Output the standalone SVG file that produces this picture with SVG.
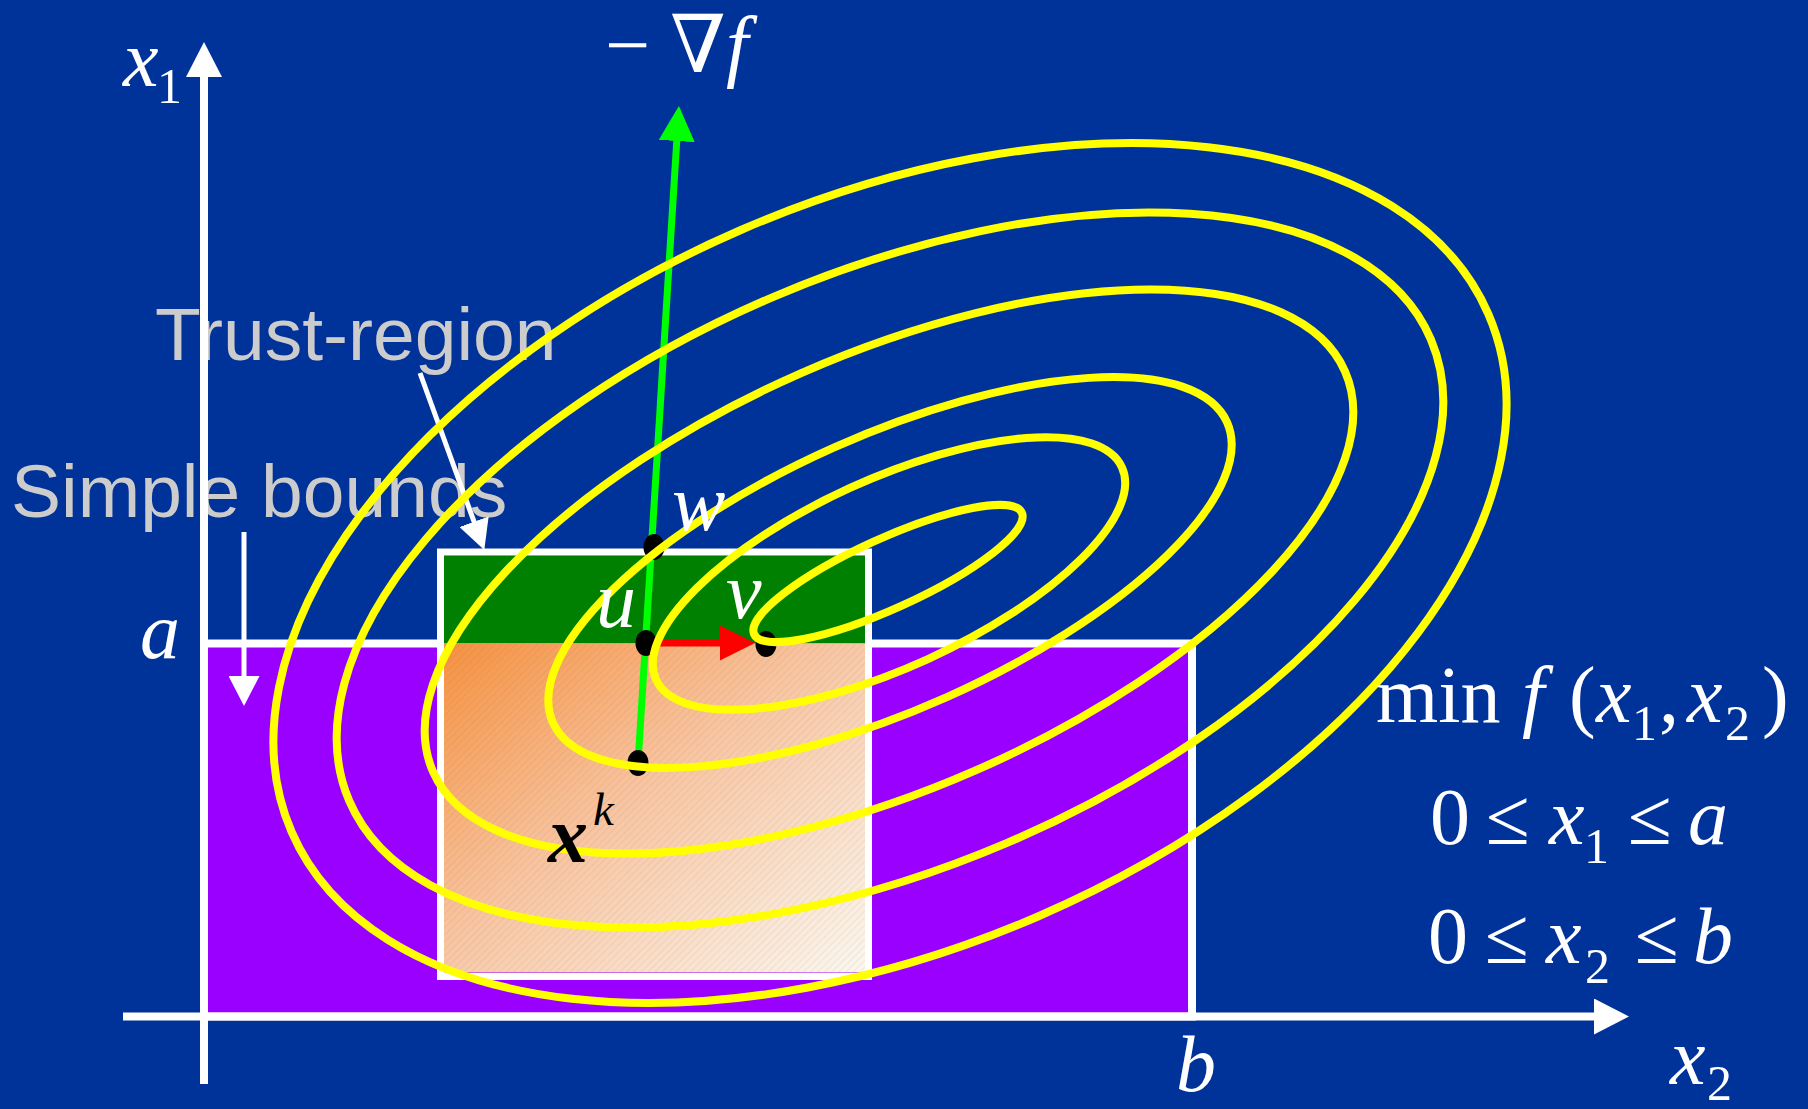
<svg xmlns="http://www.w3.org/2000/svg" width="1808" height="1109" viewBox="0 0 1808 1109">
<style>
.gray{font-family:"Liberation Sans",Arial,sans-serif;font-size:75px;fill:#CCCCCC}
.m{font-family:"Liberation Serif","DejaVu Serif",serif;font-size:80px;fill:#FFFFFF}
.i{font-style:italic}
.sub{font-size:50px}
.dark{fill:#000000}
.contour{fill:none;stroke:#FFFF00;stroke-width:8}
.dot{fill:#000000}
</style>
<defs>
<marker id="whiteBig" markerUnits="userSpaceOnUse" viewBox="0 0 35 36" markerWidth="35" markerHeight="36" refX="1" refY="18" orient="auto"><path d="M0,0 L35,18 L0,36 z" fill="#FFFFFF"/></marker>
<marker id="whiteSmall" markerUnits="userSpaceOnUse" viewBox="0 0 30 31" markerWidth="30" markerHeight="31" refX="1" refY="15.5" orient="auto"><path d="M0,0 L30,15.5 L0,31 z" fill="#FFFFFF"/></marker>
<marker id="greenHead" markerUnits="userSpaceOnUse" viewBox="0 0 35 36" markerWidth="35" markerHeight="36" refX="1" refY="18" orient="auto"><path d="M0,0 L35,18 L0,36 z" fill="#00FF00"/></marker>
<marker id="redHead" markerUnits="userSpaceOnUse" viewBox="0 0 35 35" markerWidth="35" markerHeight="35" refX="1" refY="17.5" orient="auto"><path d="M0,0 L35,17.5 L0,35 z" fill="#FF0000"/></marker>
<linearGradient id="orangeGrad" x1="0" y1="0" x2="1" y2="1">
<stop offset="0" stop-color="#F6913F"/>
<stop offset="0.45" stop-color="#F8C4A0"/>
<stop offset="1" stop-color="#FBF7EF"/>
</linearGradient>
<pattern id="hatch" width="5" height="5" patternUnits="userSpaceOnUse" patternTransform="rotate(45)"><line x1="0" y1="0" x2="0" y2="5" stroke="#7A6A5A" stroke-width="1" opacity="0.22"/></pattern>
</defs>
<rect x="0" y="0" width="1808" height="1109" fill="#003399"/>

<g id="label-trust-region"><text class="gray" x="155" y="360">Trust-region</text></g>
<g id="label-simple-bounds"><text class="gray" x="11" y="517">Simple bounds</text></g>

<g id="simple-bounds-region"><rect x="204" y="643.5" width="988" height="373" fill="#9900FF" stroke="#FFFFFF" stroke-width="8"/></g>

<g id="trust-region">
<rect x="444" y="555.5" width="421" height="88" fill="#008000"/>
<rect x="444" y="643.5" width="421" height="329" fill="url(#orangeGrad)"/>
<rect x="444" y="643.5" width="421" height="329" fill="url(#hatch)"/>
<rect x="440.5" y="552" width="428" height="424.5" fill="none" stroke="#FFFFFF" stroke-width="7"/>
</g>

<g id="connectors">
<line x1="204" y1="1084" x2="204" y2="76" stroke="#FFFFFF" stroke-width="8" marker-end="url(#whiteBig)"/>
<line x1="123" y1="1016.5" x2="1595" y2="1016.5" stroke="#FFFFFF" stroke-width="8" marker-end="url(#whiteBig)"/>
<line x1="244" y1="532" x2="244" y2="677" stroke="#FFFFFF" stroke-width="5" marker-end="url(#whiteSmall)"/>
<line x1="420" y1="373" x2="474.4" y2="522.7" stroke="#FFFFFF" stroke-width="5" marker-end="url(#whiteSmall)"/>
<line x1="638" y1="763" x2="676.8" y2="140" stroke="#00FF00" stroke-width="7" marker-end="url(#greenHead)"/>
<line x1="646" y1="643" x2="721" y2="643" stroke="#FF0000" stroke-width="7" marker-end="url(#redHead)"/>
</g>

<g id="points">
<ellipse class="dot" cx="654" cy="547" rx="10.5" ry="13"/>
<ellipse class="dot" cx="646" cy="643" rx="10.5" ry="13"/>
<ellipse class="dot" cx="766" cy="644" rx="10.5" ry="13"/>
<ellipse class="dot" cx="638" cy="763" rx="10.5" ry="13"/>
</g>

<g id="contours">
<ellipse class="contour" cx="890" cy="573" rx="652" ry="374" transform="rotate(-23.4 890 573)"/>
<ellipse class="contour" cx="890" cy="570" rx="588" ry="297" transform="rotate(-23.1 890 570)"/>
<ellipse class="contour" cx="889" cy="571.5" rx="498" ry="217" transform="rotate(-23.7 889 571.5)"/>
<ellipse class="contour" cx="890" cy="572.5" rx="369" ry="137" transform="rotate(-24 890 572.5)"/>
<ellipse class="contour" cx="889" cy="573.5" rx="256" ry="94" transform="rotate(-24.5 889 573.5)"/>
<ellipse class="contour" cx="888" cy="573.5" rx="147" ry="35" transform="rotate(-24.4 888 573.5)"/>
</g>

<g id="labels">
<text class="m" x="605" y="72" font-size="76">− ∇<tspan class="i">f</tspan></text>
<text class="m i" x="123" y="86">x<tspan class="sub" font-style="normal" x="157" y="103">1</tspan></text>
<text class="m i" x="140" y="658">a</text>
<text class="m i" x="1176" y="1091">b</text>
<text class="m i" x="1670" y="1084">x<tspan class="sub" font-style="normal" x="1707" y="1100">2</tspan></text>
<text class="m i" x="672" y="530">w</text>
<text class="m i" x="596" y="627">u</text>
<text class="m i" x="726" y="618">v</text>
<text class="m i dark" x="548" y="862" font-weight="bold">x<tspan font-weight="normal" font-size="47px" x="593" y="825">k</tspan></text>
<text class="m" x="1376" y="722">min<tspan class="i" x="1522">f</tspan><tspan x="1569">(</tspan><tspan class="i" x="1596">x</tspan><tspan class="sub" x="1632" y="740">1</tspan><tspan x="1659" y="722">,</tspan><tspan class="i" x="1687">x</tspan><tspan class="sub" x="1725" y="740">2</tspan><tspan x="1762" y="722">)</tspan></text>
<text class="m" x="1430" y="844">0<tspan x="1486">≤</tspan><tspan class="i" x="1549">x</tspan><tspan class="sub" x="1584" y="863">1</tspan><tspan x="1628" y="844">≤</tspan><tspan class="i" x="1688">a</tspan></text>
<text class="m" x="1428" y="963">0<tspan x="1485">≤</tspan><tspan class="i" x="1546">x</tspan><tspan class="sub" x="1585" y="983">2</tspan><tspan x="1635" y="963">≤</tspan><tspan class="i" x="1693">b</tspan></text>
</g>
</svg>
